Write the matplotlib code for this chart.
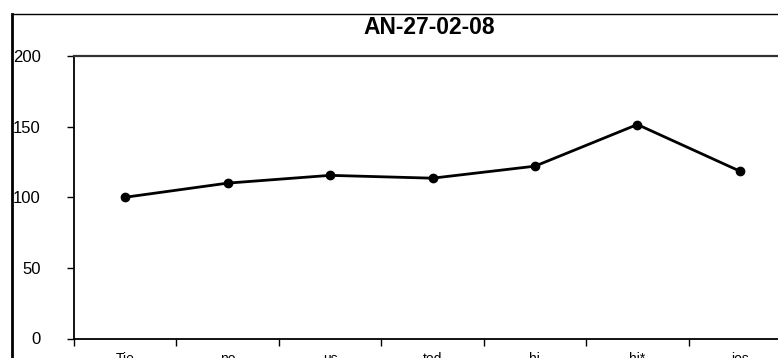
import matplotlib
matplotlib.use("Agg")
import matplotlib.pyplot as plt
from matplotlib.lines import Line2D
import numpy as np

plt.rcParams['font.family'] = ['Liberation Sans', 'DejaVu Sans']

title = "AN-27-02-08"
categories = ["Tie", "no", "us", "tod", "hi", "hi*", "ios"]
values = [100, 110, 115.5, 113.5, 122, 151.5, 118.5]
yticks = [0, 50, 100, 150, 200]

W, H = 778, 358
fig = plt.figure(figsize=(W / 100, H / 100), dpi=100)

# outer chart frame (cropped)
fig.add_artist(Line2D([12 / W, 12 / W], [0, 1 - 14 / H], transform=fig.transFigure,
                      color='black', lw=2.0))
fig.add_artist(Line2D([12 / W, 1.0], [1 - 14 / H, 1 - 14 / H], transform=fig.transFigure,
                      color='black', lw=1.0))

left, right = 74 / W, 791 / W
bottom, top = (H - 338.5) / H, (H - 56) / H
ax = fig.add_axes([left, bottom, right - left, top - bottom])

x = np.arange(len(categories))
ax.plot(x, values, color='black', lw=2.0, marker='o', ms=6, mec='black', mfc='black',
        clip_on=False)

ax.set_xlim(-0.5, len(categories) - 0.5)
ax.set_ylim(0, 200)
ax.set_yticks(yticks)
ax.set_yticklabels([str(t) for t in yticks], fontsize=12)
ax.tick_params(axis='y', direction='out', length=5, width=1, pad=19)

ax.set_xticks(np.arange(len(categories) + 1) - 0.5)
ax.set_xticklabels([])
ax.set_xticks(x, minor=True)
ax.set_xticklabels(categories, minor=True, fontsize=10)
ax.tick_params(axis='x', which='major', direction='out', length=5, width=1)
ax.tick_params(axis='x', which='minor', length=0, pad=10)

for s in ['left', 'bottom']:
    ax.spines[s].set_linewidth(1.3)
    ax.spines[s].set_color('black')
ax.spines['top'].set_linewidth(1.6)
ax.spines['top'].set_color('#333333')
ax.spines['right'].set_visible(False)

fig.text(429 / W, 1 - 27 / H, title, ha='center', va='center', fontsize=16.5,
         fontweight='bold')

fig.savefig("out.png", dpi=100)
